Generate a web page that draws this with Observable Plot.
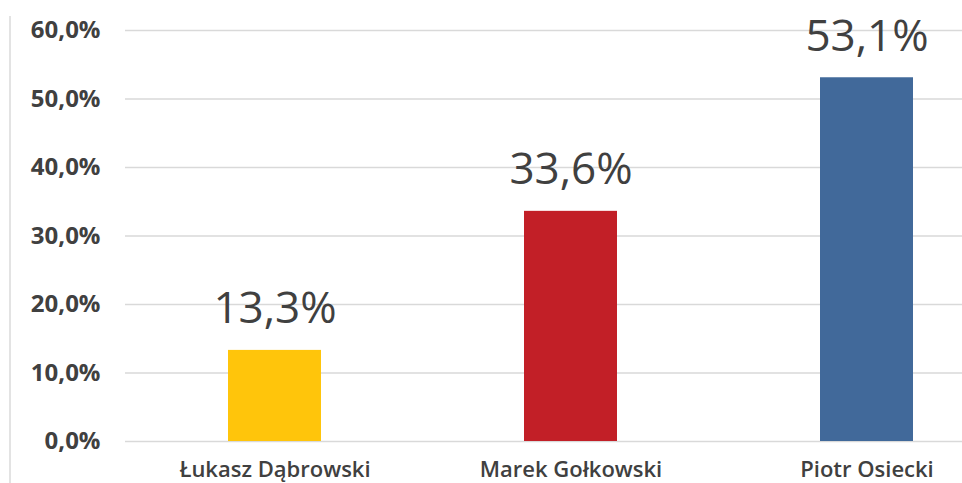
<!DOCTYPE html>
<html>
<head>
<meta charset="utf-8">
<script src="https://cdn.jsdelivr.net/npm/d3@7"></script>
<script src="https://cdn.jsdelivr.net/npm/@observablehq/plot@0.6"></script>
<style>
  html, body { margin: 0; padding: 0; background: #fff; }
  #wrap { position: relative; width: 962px; height: 483px; overflow: hidden; }
  #border { position: absolute; left: 9px; top: 16px; bottom: 0; border-left: 2px solid #e3e3e3; }
  #chart { position: absolute; left: 0; top: 0; }
</style>
</head>
<body>
<div id="wrap"><div id="border"></div><div id="chart"></div></div>
<script>
const candidates = ["Łukasz Dąbrowski", "Marek Gołkowski", "Piotr Osiecki"];
const shares = [13.3, 33.6, 53.1];
const colors = ["#FFC50B", "#C21F27", "#41699A"];
const yTicks = [0, 10, 20, 30, 40, 50, 60];

const data = candidates.map((c, i) => ({candidate: c, share: shares[i], color: colors[i]}));
const fmt = v => v.toFixed(1).replace(".", ",") + "%";

const chart = Plot.plot({
  width: 962,
  height: 483,
  marginTop: 30,
  marginBottom: 42,
  marginLeft: 125,
  marginRight: 0,
  style: {fontFamily: "'Open Sans', sans-serif", color: "#404040", background: "transparent"},
  x: {domain: candidates, range: [125, 1015], paddingInner: 0.686, paddingOuter: 0.343, label: null},
  y: {domain: [0, 60], ticks: yTicks, label: null},
  color: {type: "identity"},
  marks: [
    Plot.gridY(yTicks, {stroke: "#d9d9d9", strokeOpacity: 1, strokeWidth: 1.5}),
    Plot.axisY({ticks: yTicks, tickSize: 0, tickPadding: 25, tickFormat: fmt, fontSize: 24, fontWeight: 700, fill: "#404040", label: null}),
    Plot.axisX({tickSize: 0, tickPadding: 20, fontSize: 22, fontWeight: 600, fill: "#404040", label: null}),
    Plot.barY(data, {x: "candidate", y: "share", fill: "color"}),
    Plot.text(data, {x: "candidate", y: "share", text: d => fmt(d.share), fontSize: 44, fill: "#404040", dy: -27, lineAnchor: "bottom"})
  ]
});
document.getElementById("chart").appendChild(chart);
</script>
</body>
</html>
